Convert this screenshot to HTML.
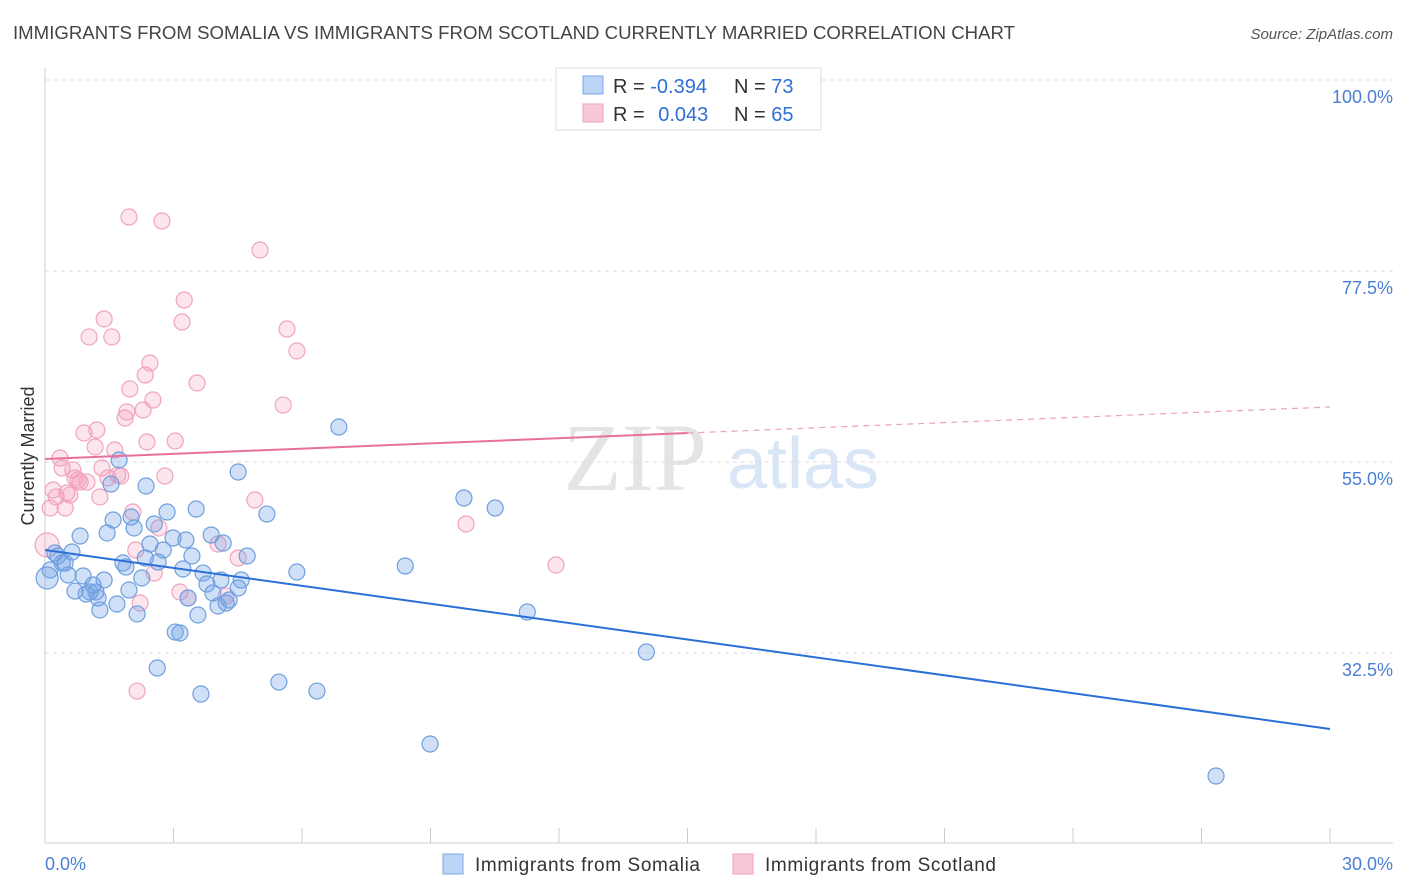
<!DOCTYPE html>
<html><head><meta charset="utf-8"><style>
body{margin:0;background:#fff;font-family:"Liberation Sans",sans-serif}
svg{display:block}
</style></head><body>
<svg id="chart" width="1406" height="892">
<text x="13" y="39" font-size="18" fill="#444" textLength="1002" lengthAdjust="spacingAndGlyphs">IMMIGRANTS FROM SOMALIA VS IMMIGRANTS FROM SCOTLAND CURRENTLY MARRIED CORRELATION CHART</text>
<text x="1393" y="39" font-size="15" fill="#555" font-style="italic" text-anchor="end">Source: ZipAtlas.com</text>
<g>
<text x="635" y="490" font-size="96" fill="#e4e4e4" font-family="Liberation Serif,serif" text-anchor="middle">ZIP</text>
<text x="803" y="488" font-size="72" fill="#d8e6f6" text-anchor="middle">atlas</text>
</g>
<g id="grid"></g>
<line x1="45" y1="68" x2="45" y2="843" stroke="#ccc"/>
<line x1="45" y1="843" x2="1393" y2="843" stroke="#ccc"/>
<text x="45" y="870" font-size="18" fill="#4a7fd4">0.0%</text>
<text x="1393" y="870" font-size="18" fill="#4a7fd4" text-anchor="end">30.0%</text>
<text transform="translate(34,456) rotate(-90)" font-size="18" fill="#333" text-anchor="middle">Currently Married</text>
<g id="marks"></g>
<g>
<rect x="556" y="68" width="265" height="62" fill="#fff" stroke="#ddd"/>
<rect x="583" y="76" width="20" height="18" fill="#bcd4f5" stroke="#7aa7e6"/>
<rect x="583" y="104" width="20" height="18" fill="#f9c8d7" stroke="#eea0bb"/>
<text x="613" y="93" font-size="20" fill="#333">R = <tspan fill="#2f6fd6">-0.394</tspan><tspan x="734">N = </tspan><tspan fill="#2f6fd6">73</tspan></text>
<text x="613" y="121" font-size="20" fill="#333">R = <tspan fill="#2f6fd6" dx="8">0.043</tspan><tspan x="734">N = </tspan><tspan fill="#2f6fd6">65</tspan></text>
</g>
<g>
<rect x="443" y="854" width="20" height="20" fill="#bcd4f5" stroke="#7aa7e6"/>
<text x="475" y="871" font-size="19" fill="#333" textLength="225">Immigrants from Somalia</text>
<rect x="733" y="854" width="20" height="20" fill="#f9c8d7" stroke="#eea0bb"/>
<text x="765" y="871" font-size="19" fill="#333" textLength="231">Immigrants from Scotland</text>
</g>
</svg>
<script>
const yTicks=[100,77.5,55,32.5];
const yTickLabels=["100.0%","77.5%","55.0%","32.5%"];
const xTicks=[0,3,6,9,12,15,18,21,24,27,30];
const somaliaX=[.05,.12,.23,.30,.40,.47,.54,.63,.70,.82,.89,.96,1.05,1.12,1.19,1.24,1.28,1.38,1.45,1.54,1.59,1.68,1.73,1.82,1.89,1.96,2.01,2.08,2.15,2.26,2.34,2.36,2.45,2.55,2.62,2.64,2.76,2.85,2.99,3.04,3.15,3.22,3.29,3.34,3.43,3.53,3.57,3.69,3.78,3.88,3.92,4.04,4.11,4.16,4.23,4.30,4.51,4.51,4.72,5.18,5.46,5.88,6.35,6.86,8.41,8.99,9.78,10.51,11.26,14.04,27.34,3.64,4.58];
const somaliaY=[41.34,42.28,44.28,43.93,43.10,43.10,41.69,44.40,39.80,46.28,41.57,39.45,39.69,40.51,39.69,38.98,37.57,41.10,46.64,52.41,48.17,38.27,55.24,43.10,42.63,39.92,48.52,47.23,37.10,41.34,43.69,52.17,45.34,47.70,30.73,43.22,44.63,49.11,46.05,34.97,34.86,42.40,45.81,38.98,43.93,49.46,36.98,41.92,40.63,46.40,39.57,38.04,41.10,45.46,38.39,38.74,40.16,53.82,43.93,48.87,29.08,42.04,28.02,59.12,42.75,21.78,50.76,49.58,37.33,32.62,18.01,27.67,41.10];
const scotlandX=[.05,.12,.19,.26,.35,.40,.47,.51,.58,.65,.70,.77,.82,.91,.98,1.03,1.17,1.21,1.28,1.33,1.38,1.47,1.56,1.63,1.70,1.77,1.87,1.91,1.96,1.98,2.05,2.12,2.15,2.22,2.29,2.34,2.38,2.45,2.52,2.55,2.66,2.73,2.80,3.04,3.15,3.20,3.25,3.34,3.55,4.04,4.23,4.51,4.90,5.02,5.56,5.65,5.88,9.83,11.93];
const scotlandY=[45.22,49.58,51.70,50.88,55.47,54.29,49.58,51.35,51.11,54.06,53.12,52.88,52.64,58.42,52.64,69.73,56.77,58.77,50.88,54.29,71.85,53.12,69.73,56.41,53.47,53.35,60.18,60.89,83.86,63.60,49.11,44.63,28.02,38.39,61.13,65.25,57.36,66.66,62.30,41.92,47.23,83.39,53.35,57.47,39.69,71.49,74.08,38.98,64.31,45.34,39.22,43.69,50.52,79.97,61.71,70.67,68.08,47.70,42.87];
const somaliaTrend=[44.63,23.55];
const scotlandTrend=[55.35,61.48];
const NS="http://www.w3.org/2000/svg";
const X0=45,X1=1330,Y100=80,PXPER=8.489;
function sx(v){return X0+(X1-X0)*v/30;}
function sy(v){return Y100+(100-v)*PXPER;}
function mk(tag,attrs,parent){const e=document.createElementNS(NS,tag);for(const k in attrs)e.setAttribute(k,attrs[k]);parent.appendChild(e);return e;}
const grid=document.getElementById('grid'),marks=document.getElementById('marks');
yTicks.forEach((t,i)=>{
 const l=mk('line',{x1:45,x2:1393,y1:sy(t),y2:sy(t),stroke:'#ddd','stroke-dasharray':'4,4'},grid);
 
 
 const tx=mk('text',{x:1393,y:sy(t)+23,'font-size':18,fill:'#4a7fd4','text-anchor':'end'},grid);
 tx.textContent=yTickLabels[i];
 
 
});
xTicks.forEach(t=>{
 const l=mk('line',{x1:sx(t),x2:sx(t),y1:828,y2:843,stroke:'#ccc'},grid);
 
 
});
scotlandX.forEach((x,i)=>{
 const c=mk('circle',{cx:sx(x),cy:sy(scotlandY[i]),r:i===0?12:8,fill:'rgba(242,150,182,0.25)',stroke:'#f0a3be','stroke-width':1.2},marks);
 
 
});
somaliaX.forEach((x,i)=>{
 const c=mk('circle',{cx:sx(x),cy:sy(somaliaY[i]),r:i===0?11:8,fill:'rgba(110,160,228,0.32)',stroke:'#6f9fe0','stroke-width':1.2},marks);
 
 
});
const bl=mk('line',{x1:sx(0),y1:sy(somaliaTrend[0]),x2:sx(30),y2:sy(somaliaTrend[1]),stroke:'#2a6fd8','stroke-width':2},marks);


const mid=scotlandTrend[0]+(scotlandTrend[1]-scotlandTrend[0])*0.5;
const pl=mk('line',{x1:sx(0),y1:sy(scotlandTrend[0]),x2:sx(15),y2:sy(mid),stroke:'#e8709a','stroke-width':2},marks);


const pd=mk('line',{x1:sx(15),y1:sy(mid),x2:sx(30),y2:sy(scotlandTrend[1]),stroke:'#eea0bb','stroke-width':1.2,'stroke-dasharray':'6,5'},marks);


</script>
</body></html>
